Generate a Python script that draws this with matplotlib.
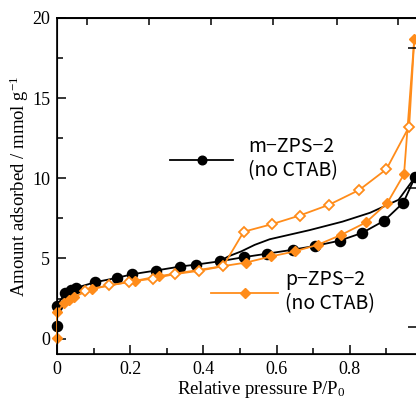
import matplotlib
matplotlib.use('Agg')
import matplotlib.pyplot as plt

plt.rcParams['font.family'] = 'Liberation Serif'
plt.rcParams['mathtext.fontset'] = 'custom'
plt.rcParams['mathtext.rm'] = 'Liberation Serif'
plt.rcParams['mathtext.it'] = 'Liberation Serif:italic'

orange = '#ff8c1a'

# m-ZPS-2 (no CTAB)
m_ads_x = [0, 0, 0.022, 0.037, 0.052, 0.104, 0.165, 0.206, 0.27, 0.337, 0.38, 0.446,
           0.512, 0.574, 0.645, 0.706, 0.772, 0.834, 0.894, 0.946, 0.978]
m_ads_y = [0.8, 2.05, 2.85, 3.05, 3.17, 3.52, 3.8, 4.02, 4.25, 4.5, 4.62, 4.83,
           5.09, 5.3, 5.55, 5.79, 6.11, 6.6, 7.36, 8.48, 10.07]
m_des_x = [0.978, 0.933, 0.855, 0.78, 0.69, 0.581, 0.54, 0.503, 0.47, 0.444]
m_des_y = [10.07, 8.66, 7.85, 7.3, 6.77, 6.2, 5.85, 5.44, 5.15, 4.83]

# p-ZPS-2 (no CTAB)
p_ads_x = [0, 0, 0.019, 0.033, 0.047, 0.095, 0.214, 0.279, 0.517, 0.585, 0.649,
           0.713, 0.777, 0.844, 0.902, 0.948, 0.976]
p_ads_y = [0.04, 1.64, 2.22, 2.43, 2.6, 3.12, 3.61, 3.9, 4.75, 5.13, 5.44,
           5.86, 6.48, 7.25, 8.45, 10.26, 18.69]
p_des_x = [0.976, 0.962, 0.9, 0.826, 0.743, 0.663, 0.587, 0.51, 0.454, 0.387,
           0.323, 0.261, 0.197, 0.141, 0.076]
p_des_y = [18.69, 13.23, 10.57, 9.28, 8.35, 7.68, 7.14, 6.67, 4.52, 4.23,
           4.03, 3.75, 3.53, 3.32, 2.99]

x_ticks = [0, 0.2, 0.4, 0.6, 0.8]
x_tick_labels = ['0', '0.2', '0.4', '0.6', '0.8']
y_ticks = [0, 5, 10, 15, 20]
y_tick_labels = ['0', '5', '10', '15', '20']
top_ticks = [0.082, 0.252, 0.422, 0.589, 0.764, 0.932]
right_ticks = [0.75, 9.41, 18.13]

fig = plt.figure(figsize=(4.16, 3.99), dpi=100)
ax = fig.add_axes([0.137, 0.113, 0.880, 0.842])

ax.plot(m_des_x, m_des_y, color='black', lw=1.3, zorder=2, clip_on=False)
h_m, = ax.plot(m_ads_x, m_ads_y, color='black', lw=1.3, marker='o', ms=7.3,
               zorder=3, clip_on=False)
h_p, = ax.plot(p_ads_x, p_ads_y, color=orange, lw=1.3, marker='D', ms=5.5,
               zorder=4, clip_on=False)
ax.plot(p_des_x, p_des_y, color=orange, lw=1.3, marker='D', ms=5.5,
        mfc='white', mec=orange, mew=1.3, markevery=list(range(1, len(p_des_x))),
        zorder=5, clip_on=False)

ax.set_xlim(0, 1)
ax.set_ylim(-0.95, 20)
ax.set_xticks(x_ticks)
ax.set_xticklabels(x_tick_labels)
ax.set_xticks([0.1, 0.3, 0.5, 0.7, 0.9], minor=True)
ax.set_yticks(y_ticks)
ax.set_yticklabels(y_tick_labels)
ax.set_yticks([2.5, 7.5, 12.5, 17.5], minor=True)
ax.tick_params(which='both', direction='in', labelsize=13, top=False, right=False,
               width=1.1)
ax.tick_params(which='major', length=6.5, pad=5)
ax.tick_params(which='minor', length=4)
for s in ax.spines.values():
    s.set_linewidth(1.2)

sec = ax.secondary_xaxis('top')
sec.set_xticks(top_ticks)
sec.tick_params(direction='in', length=5, width=1.1, labeltop=False)
sec.spines['top'].set_linewidth(1.2)

ax2 = ax.twinx()
ax2.set_ylim(ax.get_ylim())
ax2.set_yticks(right_ticks)
ax2.tick_params(direction='in', length=11, width=1.1, labelright=False)

ax.set_ylabel('Amount adsorbed / mmol g$^{\\mathregular{-1}}$', fontsize=13.5, labelpad=0.5)
ax.set_xlabel('Relative pressure P/P$_{\\mathregular{0}}$', fontsize=13.5, labelpad=3)
ax.xaxis.set_label_coords(0.559, -0.075)

leg_font = {'family': ['Noto Sans CJK JP', 'DejaVu Sans'], 'size': 14}
leg1 = ax.legend([h_m], ['m\u2212ZPS\u22122\n(no CTAB)'], prop=leg_font,
                 loc='center left', bbox_to_anchor=(170 / 416, 1 - 159 / 399),
                 bbox_transform=fig.transFigure, frameon=False, borderpad=0,
                 borderaxespad=0, handlelength=3.25, handletextpad=0.75,
                 markerscale=0.85)
ax.add_artist(leg1)
ax.legend([h_p], ['p\u2212ZPS\u22122\n(no CTAB)'], prop=leg_font,
          loc='center left', bbox_to_anchor=(211 / 416, 1 - 292 / 399),
          bbox_transform=fig.transFigure, frameon=False, borderpad=0,
          borderaxespad=0, handlelength=3.45, handletextpad=0.35)

fig.savefig('out.png', dpi=100)
